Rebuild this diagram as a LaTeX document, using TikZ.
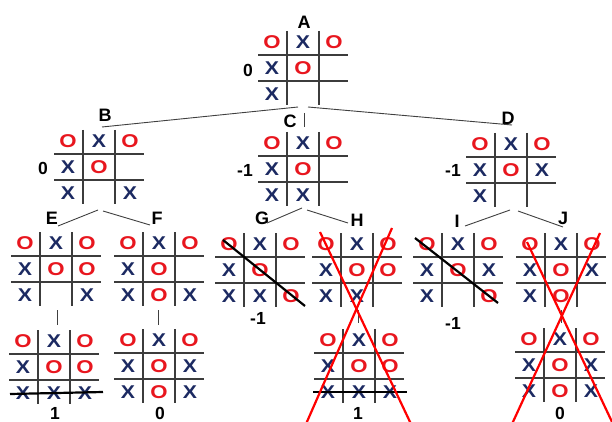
\documentclass[tikz,border=0pt]{standalone}
\usepackage{fontspec}
\setmainfont{Liberation Sans}
\definecolor{oRed}{RGB}{232,22,30}
\definecolor{xNavy}{RGB}{28,42,98}
\definecolor{gridGray}{RGB}{60,60,60}
\tikzset{
  grid/.style={draw=gridGray, line width=1.1pt},
  link/.style={draw=black!75, line width=0.9pt},
  omark/.style={text=oRed, inner sep=0pt, font=\fontsize{18.5}{18.5}\selectfont\bfseries},
  xmark/.style={text=xNavy, inner sep=0pt, font=\fontsize{18.5}{18.5}\selectfont\bfseries},
  tag/.style={inner sep=0pt, font=\fontsize{18}{18}\selectfont\bfseries},
  score/.style={inner sep=0pt, font=\fontsize{17.5}{17.5}\selectfont\bfseries},
  winline/.style={draw=black, line width=2.2pt},
  cross/.style={draw=red, line width=2.2pt},
}
% one mark per cell: O, X or N (empty)
\newcommand\cellO[3]{\node[omark] (#1) at (#2,#3) {\scalebox{1.2}[1]{O}};}
\newcommand\cellX[3]{\node[xmark] (#1) at (#2,#3) {\scalebox{1.15}[1]{X}};}
\newcommand\cellN[3]{}
% board: name, x of first vertical line, y of first horizontal line, nine cells
\newcommand\tttboard[4]{%
  \draw[grid] (#2-29,#3) -- (#2+61,#3) (#2-29,#3+26) -- (#2+61,#3+26)
    (#2,#3-24) -- (#2,#3+50) (#2+32,#3-24) -- (#2+32,#3+50);
  \foreach \c [count=\i from 0] in {#4} {
    \pgfmathtruncatemacro\col{mod(\i,3)}
    \pgfmathtruncatemacro\row{int(\i/3)}
    \pgfmathsetmacro\cx{#2-15+31*\col}
    \pgfmathsetmacro\cy{#3-13+26*\row}
    \csname cell\c\endcsname{#1-\i}{\cx}{\cy}
  }%
}
\begin{document}
\begin{tikzpicture}[x=1pt,y=-1pt]
\useasboundingbox (0,0) rectangle (612,422);
\fill[white] (0,0) rectangle (612,422);

% boards
\tttboard{A}{287}{55}{O,X,O,X,O,N,X,N,N}
\tttboard{B}{83}{154}{O,X,O,X,O,N,X,N,X}
\tttboard{C}{287}{156}{O,X,O,X,O,N,X,X,N}
\tttboard{D}{495}{157}{O,X,O,X,O,X,X,N,N}
\tttboard{E}{40}{256}{O,X,O,X,O,O,X,N,X}
\tttboard{F}{143}{256}{O,X,O,X,O,N,X,O,X}
\tttboard{G}{244}{257}{O,X,O,X,O,N,X,X,O}
\tttboard{H}{341}{257}{O,X,O,X,O,O,X,X,N}
\tttboard{I}{442}{257}{O,X,O,X,O,X,X,N,O}
\tttboard{J}{545}{257}{O,X,O,X,O,X,X,O,N}
\tttboard{E2}{38}{354}{O,X,O,X,O,O,X,X,X}
\tttboard{F2}{143}{353}{O,X,O,X,O,X,X,O,X}
\tttboard{H2}{343}{353}{O,X,O,X,O,O,X,X,X}
\tttboard{J2}{544}{352}{O,X,O,X,O,X,X,O,X}

% board letters
\node[tag] (tA) at (304,22) {A};
\node[tag] (tB) at (105,115) {B};
\node[tag] (tC) at (290,121) {C};
\node[tag] (tD) at (508,118) {D};
\node[tag] (tE) at (52,218) {E};
\node[tag] (tF) at (157,218) {F};
\node[tag] (tG) at (262,218) {G};
\node[tag] (tH) at (357,220) {H};
\node[tag] (tI) at (457,221) {I};
\node[tag] (tJ) at (563,218) {J};

% scores
\node[score] (sA) at (248,70) {0};
\node[score] (sB) at (43,168) {0};
\node[score] (sC) at (245,170) {-1};
\node[score] (sD) at (453,170) {-1};
\node[score] (sG) at (258,318) {-1};
\node[score] (sI) at (453,323) {-1};
\node[score] (sE2) at (55,413) {1};
\node[score] (sF2) at (160,413) {0};
\node[score] (sH2) at (358,413) {1};
\node[score] (sJ2) at (560,413) {0};

% tree edge end points
\coordinate (A-sl) at (298,107);
\coordinate (A-sm) at (304,113);
\coordinate (A-sr) at (308,107);
\coordinate (B-n) at (102,127);
\coordinate (C-n) at (304,127);
\coordinate (D-n) at (512,125);
\coordinate (B-sl) at (98,210);
\coordinate (B-sr) at (103,211);
\coordinate (E-n) at (58,226);
\coordinate (F-n) at (150,225);
\coordinate (C-sl) at (302,208);
\coordinate (C-sr) at (307,210);
\coordinate (G-n) at (267,223);
\coordinate (H-n) at (348,223);
\coordinate (D-sl) at (510,210);
\coordinate (D-sr) at (518,211);
\coordinate (I-n) at (465,226);
\coordinate (J-n) at (563,227);
\coordinate (E-s) at (57,310);
\coordinate (E2-n) at (57,325);
\coordinate (F-s) at (158,310);
\coordinate (F2-n) at (158,325);
\coordinate (H-s) at (358,310);
\coordinate (H2-n) at (358,323);
\coordinate (J-s) at (561,310);
\coordinate (J2-n) at (561,323);

\draw[link] (A-sl) -- (B-n);
\draw[link] (A-sm) -- (C-n);
\draw[link] (A-sr) -- (D-n);
\draw[link] (B-sl) -- (E-n);
\draw[link] (B-sr) -- (F-n);
\draw[link] (C-sl) -- (G-n);
\draw[link] (C-sr) -- (H-n);
\draw[link] (D-sl) -- (I-n);
\draw[link] (D-sr) -- (J-n);
\draw[link] (E-s) -- (E2-n);
\draw[link] (F-s) -- (F2-n);
\draw[link] (H-s) -- (H2-n);
\draw[link] (J-s) -- (J2-n);

% winning lines
\coordinate (g1) at (223,240); \coordinate (g2) at (305,306);
\coordinate (i1) at (415,238); \coordinate (i2) at (498,303);
\coordinate (e1) at (10,394);  \coordinate (e2) at (103,392);
\coordinate (h1) at (313,392); \coordinate (h2) at (407,392);
\draw[winline] (g1) -- (g2);
\draw[winline] (i1) -- (i2);
\draw[winline] (e1) -- (e2);
\draw[winline] (h1) -- (h2);

% pruned branches
\coordinate (hx1) at (320,232); \coordinate (hx2) at (411,424);
\coordinate (hx3) at (392,228); \coordinate (hx4) at (306,424);
\coordinate (jx1) at (527,242); \coordinate (jx2) at (613,424);
\coordinate (jx3) at (600,233); \coordinate (jx4) at (512,424);
\draw[cross] (hx1) -- (hx2);
\draw[cross] (hx3) -- (hx4);
\draw[cross] (jx1) -- (jx2);
\draw[cross] (jx3) -- (jx4);
\end{tikzpicture}
\end{document}
